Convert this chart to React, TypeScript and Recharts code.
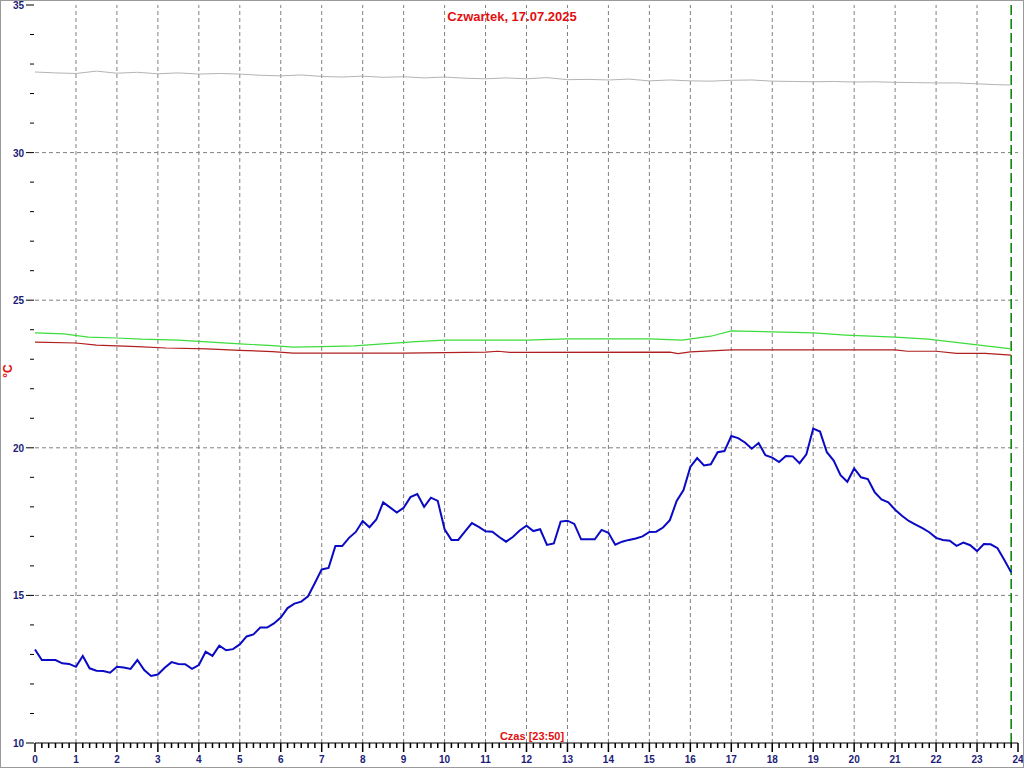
import React from "react";
import { LineChart, Line, XAxis, YAxis, ReferenceLine } from "recharts";

// 10-minute readings, 00:00 .. 23:50
const blueTemp = [
  13.17, 12.81, 12.81, 12.81, 12.7, 12.68, 12.58, 12.95, 12.53, 12.45, 12.44, 12.38,
  12.58, 12.56, 12.51, 12.81, 12.47, 12.27, 12.32, 12.55, 12.74, 12.68, 12.67, 12.51,
  12.64, 13.09, 12.95, 13.3, 13.14, 13.18, 13.34, 13.61, 13.68, 13.91, 13.91, 14.05,
  14.25, 14.57, 14.72, 14.79, 14.97, 15.42, 15.88, 15.93, 16.67, 16.67, 16.95, 17.15,
  17.52, 17.31, 17.57, 18.15, 17.98, 17.81, 17.97, 18.33, 18.43, 18.0, 18.31, 18.2,
  17.24, 16.88, 16.88, 17.17, 17.45, 17.32, 17.17, 17.16, 16.98, 16.82, 16.98, 17.2,
  17.36, 17.18, 17.24, 16.71, 16.76, 17.5, 17.53, 17.42, 16.9, 16.9, 16.9, 17.22,
  17.12, 16.72, 16.82, 16.88, 16.93, 17.0, 17.15, 17.16, 17.3, 17.55, 18.2, 18.57,
  19.35, 19.65, 19.4, 19.44, 19.85, 19.89, 20.4, 20.33, 20.18, 19.97, 20.16, 19.75,
  19.67, 19.52, 19.72, 19.71, 19.48, 19.78, 20.65, 20.55, 19.85, 19.57, 19.07, 18.85,
  19.3, 19.0, 18.94, 18.5, 18.25, 18.15, 17.9, 17.7, 17.52, 17.4, 17.28, 17.14,
  16.95, 16.88, 16.85, 16.68, 16.79, 16.7, 16.5, 16.74, 16.73, 16.6, 16.2, 15.78,
];

// half-hour readings, 00:00 .. 23:30 plus 23:50
const grayTemp = [
  32.73, 32.7, 32.68, 32.76, 32.69, 32.72, 32.67, 32.7, 32.66, 32.68, 32.66, 32.62,
  32.6, 32.63, 32.58, 32.56, 32.59, 32.55, 32.57, 32.53, 32.56, 32.52, 32.5, 32.53,
  32.5, 32.54, 32.47, 32.48, 32.46, 32.49, 32.43, 32.46, 32.43, 32.42, 32.45, 32.46,
  32.42, 32.41, 32.4, 32.41, 32.39, 32.4, 32.38, 32.37, 32.36, 32.36, 32.33, 32.3, 32.29,
];
const halfHours = [
  0, 0.5, 1, 1.5, 2, 2.5, 3, 3.5, 4, 4.5, 5, 5.5, 6, 6.5, 7, 7.5, 8, 8.5, 9, 9.5, 10, 10.5,
  11, 11.5, 12, 12.5, 13, 13.5, 14, 14.5, 15, 15.5, 16, 16.5, 17, 17.5, 18, 18.5, 19, 19.5,
  20, 20.5, 21, 21.5, 22, 22.5, 23, 23.5, 23.83,
];

const greenHours = [0, 0.7, 1.3, 2, 2.6, 3.5, 4.3, 5, 5.8, 6.3, 7, 7.8, 8.5, 9.3, 10, 12, 13, 15, 15.8, 16.5, 17, 18, 19, 19.8, 21, 21.8, 22.8, 23.83];
const greenTemp = [23.89, 23.86, 23.75, 23.72, 23.68, 23.65, 23.58, 23.52, 23.46, 23.41, 23.43, 23.45, 23.52, 23.6, 23.65, 23.65, 23.69, 23.69, 23.65, 23.78, 23.96, 23.93, 23.89, 23.82, 23.75, 23.68, 23.52, 23.35];

const redHours = [0, 1, 1.5, 2.5, 3.2, 4.2, 5, 5.8, 6.3, 9, 11, 11.3, 11.6, 15.5, 15.7, 16, 17, 21, 21.3, 22, 22.5, 23.2, 23.83];
const redTemp = [23.58, 23.55, 23.48, 23.43, 23.38, 23.35, 23.3, 23.26, 23.21, 23.21, 23.24, 23.27, 23.23, 23.24, 23.19, 23.25, 23.32, 23.32, 23.27, 23.27, 23.2, 23.2, 23.14];

const hourLabels = [0, 1, 2, 3, 4, 5, 6, 7, 8, 9, 10, 11, 12, 13, 14, 15, 16, 17, 18, 19, 20, 21, 22, 23, 24];
const yTicks = [10, 11, 12, 13, 14, 15, 16, 17, 18, 19, 20, 21, 22, 23, 24, 25, 26, 27, 28, 29, 30, 31, 32, 33, 34, 35];
const yGrid = [15, 20, 25, 30];
const xGrid = hourLabels.slice(1, 24);
const nowHour = 23 + 50 / 60;

const xTicks = Array.from({ length: 24 * 6 + 1 }, (_, i) => i / 6);

const blueData = blueTemp.map((v, i) => ({ t: i / 6, v }));
const grayData = grayTemp.map((v, i) => ({ t: halfHours[i], v }));
const greenData = greenTemp.map((v, i) => ({ t: greenHours[i], v }));
const redData = redTemp.map((v, i) => ({ t: redHours[i], v }));

const NAVY = "#1c1c78";
const PLOT_LEFT = 35;
const PLOT_BOTTOM = 743;

function YTick(props: any) {
  const { y, payload } = props;
  const major = payload.value % 5 === 0;
  return (
    <g>
      <line x1={major ? 26 : 30} x2={PLOT_LEFT - 1} y1={y} y2={y} stroke="#000" strokeWidth={1} />
      {major && (
        <text x={24} y={y + 4} textAnchor="end" fontSize={10} fontWeight="bold" fill={NAVY}>
          {payload.value}
        </text>
      )}
    </g>
  );
}

function XTick(props: any) {
  const { x, payload } = props;
  const v = payload.value;
  const major = Math.abs(v - Math.round(v)) < 0.001;
  return (
    <g>
      <line x1={x} x2={x} y1={PLOT_BOTTOM} y2={PLOT_BOTTOM + (major ? 9 : 5)} stroke="#000" strokeWidth={1.5} />
      {major && (
        <text x={x} y={PLOT_BOTTOM + 20} textAnchor="middle" fontSize={10} fontWeight="bold" fill={NAVY}>
          {Math.round(v)}
        </text>
      )}
    </g>
  );
}

export default function App() {
  return (
    <div
      style={{
        position: "absolute",
        left: 0,
        top: 0,
        width: 1024,
        height: 768,
        background: "#fff",
        fontFamily: "'Liberation Sans', Arial, sans-serif",
      }}
    >
      <LineChart
        width={1024}
        height={768}
        margin={{ top: 5, right: 6, bottom: 0, left: 0 }}
        style={{ fontFamily: "'Liberation Sans', Arial, sans-serif" }}
      >
        <XAxis
          type="number"
          dataKey="t"
          domain={[0, 24]}
          ticks={xTicks}
          interval={0}
          tick={<XTick />}
          tickLine={false}
          axisLine={{ stroke: "#000", strokeWidth: 1 }}
          height={25}
          allowDuplicatedCategory={false}
        />
        <YAxis
          type="number"
          domain={[10, 35]}
          ticks={yTicks}
          interval={0}
          tick={<YTick />}
          tickLine={false}
          axisLine={false}
          width={35}
        />
        {yGrid.map((g) => (
          <ReferenceLine key={`y${g}`} y={g} stroke="#808080" strokeDasharray="4 3" />
        ))}
        {xGrid.map((g) => (
          <ReferenceLine key={`x${g}`} x={g} stroke="#808080" strokeDasharray="4 3" />
        ))}
        <ReferenceLine x={nowHour} stroke="#008000" strokeWidth={1.5} strokeDasharray="10 4" />
        <Line data={grayData} dataKey="v" type="linear" stroke="#b4b4b4" strokeWidth={1} dot={false} isAnimationActive={false} />
        <Line data={greenData} dataKey="v" type="linear" stroke="#3ddc3d" strokeWidth={1.2} dot={false} isAnimationActive={false} />
        <Line data={redData} dataKey="v" type="linear" stroke="#b01e1e" strokeWidth={1.2} dot={false} isAnimationActive={false} />
        <Line data={blueData} dataKey="v" type="linear" stroke="#0a0ac4" strokeWidth={2} dot={false} isAnimationActive={false} />
      </LineChart>
      <div
        style={{
          position: "absolute",
          left: 0,
          top: 9,
          width: 1024,
          textAlign: "center",
          color: "#e01010",
          fontSize: 13,
          fontWeight: "bold",
        }}
      >
        Czwartek, 17.07.2025
      </div>
      <div
        style={{
          position: "absolute",
          left: 432,
          width: 200,
          top: 730,
          textAlign: "center",
          color: "#e01010",
          fontSize: 11,
          fontWeight: "bold",
        }}
      >
        Czas [23:50]
      </div>
      <div
        style={{
          position: "absolute",
          left: 1,
          top: 364,
          color: "#e01010",
          fontSize: 12,
          fontWeight: "bold",
          transform: "rotate(-90deg)",
        }}
      >
        °C
      </div>
      <div
        style={{
          position: "absolute",
          left: 0,
          top: 0,
          width: 1024,
          height: 768,
          boxSizing: "border-box",
          border: "1px solid #9a9a9a",
          pointerEvents: "none",
        }}
      />
    </div>
  );
}
